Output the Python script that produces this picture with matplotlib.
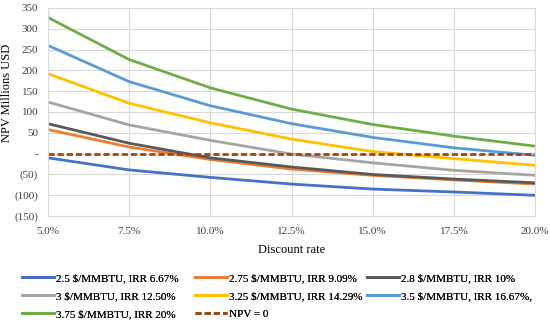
import matplotlib.pyplot as plt
from matplotlib.ticker import FuncFormatter

# Donnees
discount = [5.0, 7.5, 10.0, 12.5, 15.0, 17.5, 20.0]
labels = ["2.5 $/MMBTU, IRR 6.67%", "2.75 $/MMBTU, IRR 9.09%", "2.8 $/MMBTU, IRR 10%",
          "3 $/MMBTU, IRR 12.50%", "3.25 $/MMBTU, IRR 14.29%", "3.5 $/MMBTU, IRR 16.67%,",
          "3.75 $/MMBTU, IRR 20%"]
npv_250 = [-10, -39, -57, -73, -85, -92, -100]
npv_275 = [58, 16, -14, -37, -52, -63, -73]
npv_280 = [72, 25, -10, -32, -50, -61, -70]
npv_300 = [124, 69, 32, -1, -22, -40, -52]
npv_325 = [192, 121, 74, 35, 5, -12, -28]
npv_350 = [260, 173, 115, 72, 39, 14, -4]
npv_375 = [327, 226, 158, 107, 70, 42, 18]
npv_zero = [0, 0, 0, 0, 0, 0, 0]

series = [npv_250, npv_275, npv_280, npv_300, npv_325, npv_350, npv_375]
colors = ["#4472C4", "#ED7D31", "#595959", "#A5A5A5", "#FFC000", "#5B9BD5", "#70AD47"]

plt.rcParams['font.family'] = ['Liberation Serif', 'DejaVu Serif']
plt.rcParams['font.size'] = 8

fig = plt.figure(figsize=(5.5, 3.27), dpi=100)
ax = fig.add_axes([0.087, 0.339, 0.886, 0.637])

handles = []
for vals, col, lab in zip(series, colors, labels):
    h, = ax.plot(discount, vals, color=col, linewidth=2, label=lab)
    handles.append(h)
h, = ax.plot(discount, npv_zero, color="#9E480E", linewidth=2, linestyle=(0, (2.2, 1.1)), label="NPV = 0")
handles.append(h)

ax.set_xlim(5, 20)
ax.set_ylim(-150, 350)
ax.set_xticks(discount)
ax.set_yticks(range(-150, 351, 50))
ax.xaxis.set_major_formatter(FuncFormatter(lambda v, p: f"{v:.1f}%"))


def fmt_y(v, p):
    if v == 0:
        return "-"
    if v < 0:
        return f"({-v:.0f})"
    return f"{v:.0f}"


ax.yaxis.set_major_formatter(FuncFormatter(fmt_y))
ax.grid(color="#D9D9D9", linewidth=0.8)
ax.set_axisbelow(True)
for s in ax.spines.values():
    s.set_color("#D9D9D9")
ax.tick_params(length=0, colors="#404040")
ax.tick_params(axis='x', pad=8)
ax.tick_params(axis='y', pad=7)
ax.set_xlabel("Discount rate", fontsize=9, va='top')
ax.xaxis.set_label_coords(0.5, -0.135)
ax.set_ylabel("NPV Millions USD", fontsize=9)
ax.yaxis.set_label_coords(-0.072, 0.594)

# legende en 3 colonnes, placee colonne par colonne
col_x = [0.04, 0.3545, 0.667]
cols = [[0, 3, 6], [1, 4, 7], [2, 5]]
for x0, idx in zip(col_x, cols):
    leg = fig.legend([handles[i] for i in idx], [handles[i].get_label() for i in idx],
                     loc="upper left", bbox_to_anchor=(x0, 0.165), frameon=False,
                     fontsize=8, handlelength=2.9, handletextpad=0.2,
                     labelspacing=0.75, borderpad=0, borderaxespad=0)
    fig.add_artist(leg)

fig.savefig("out.png", dpi=100)
